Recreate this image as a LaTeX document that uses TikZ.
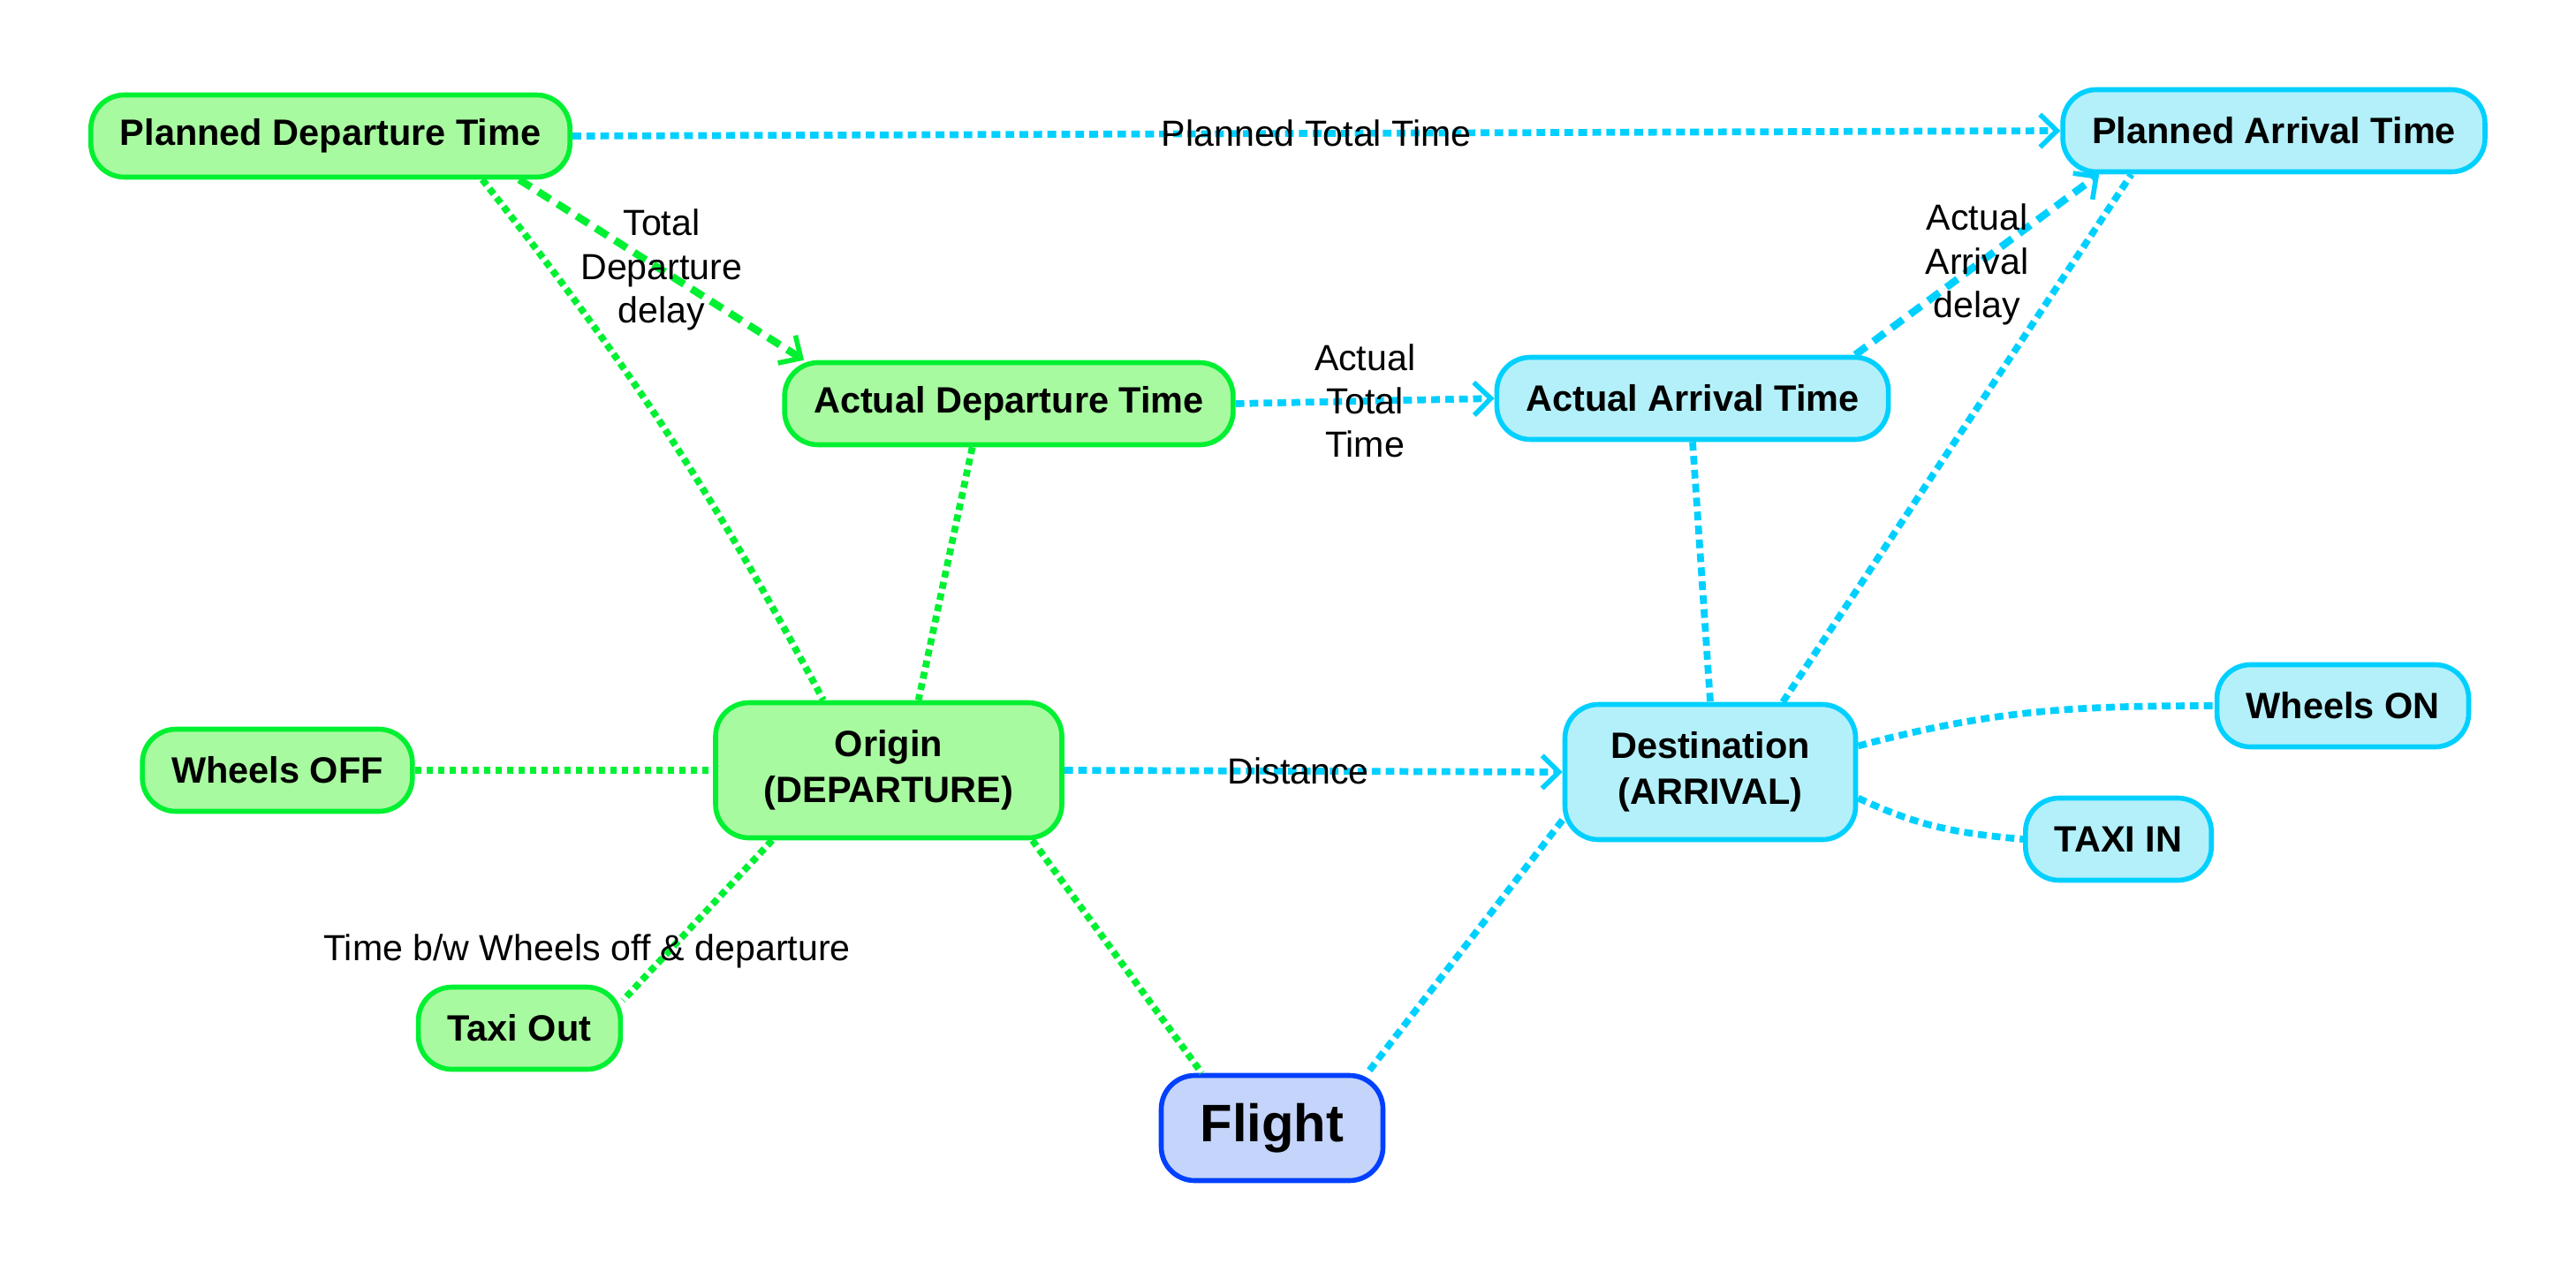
\documentclass[tikz,border=0pt]{standalone}
\usepackage{fontspec}
\setmainfont{Liberation Sans}
\usetikzlibrary{arrows.meta}
\definecolor{grnedge}{RGB}{0,240,50}
\definecolor{grnfill}{RGB}{168,250,160}
\definecolor{cyanedge}{RGB}{0,208,255}
\definecolor{cyanfill}{RGB}{180,240,250}
\definecolor{flightedge}{RGB}{0,64,255}
\definecolor{flightfill}{RGB}{196,212,250}
\begin{document}
\begin{tikzpicture}[
		box/.style={rounded corners=0.38cm,line width=1.6pt,inner xsep=0.33cm,inner ysep=0pt,minimum height=0.93cm,align=center,font=\fontsize{11.8}{14.8}\selectfont\bfseries},
		grnbox/.style={box,draw=grnedge,fill=grnfill},
		cyanbox/.style={box,draw=cyanedge,fill=cyanfill},
		lbl/.style={inner sep=0pt,align=center,font=\fontsize{11.7}{14}\selectfont},
		gline/.style={draw=grnedge,line width=2.2pt,dash pattern=on 2.2pt off 1.5pt},
		cline/.style={draw=cyanedge,line width=2.2pt,dash pattern=on 2.8pt off 1.7pt},
		gdash/.style={draw=grnedge,line width=2.4pt,dash pattern=on 4.5pt off 2.8pt},
		cdash/.style={draw=cyanedge,line width=2.4pt,dash pattern=on 4.5pt off 2.8pt},
		barb/.style={-{Straight Barb[length=1.9mm,width=3.7mm,line width=1.6pt]}}]
		\useasboundingbox (0,0) rectangle (29.16,14.39);
		\node[grnbox](pdt) at (3.74,12.85){Planned Departure Time};
		\node[cyanbox](pat) at (25.74,12.91){Planned Arrival Time};
		\node[grnbox](adt) at (11.42,9.82){Actual Departure Time};
		\node[cyanbox](aat) at (19.16,9.88){Actual Arrival Time};
		\node[grnbox](woff) at (3.14,5.67){Wheels OFF};
		\node[grnbox,minimum width=3.92cm,minimum height=1.53cm](orig) at (10.06,5.67){Origin\\(DEPARTURE)};
		\node[cyanbox,minimum width=3.29cm,minimum height=1.53cm](dest) at (19.36,5.65){Destination\\(ARRIVAL)};
		\node[cyanbox](won) at (26.52,6.40){Wheels ON};
		\node[cyanbox](taxiin) at (23.98,4.89){TAXI IN};
		\node[grnbox](taxiout) at (5.88,2.75){Taxi Out};
		\node[box,draw=flightedge,fill=flightfill,minimum width=2.51cm,minimum height=1.19cm,font=\fontsize{17}{20}\selectfont\bfseries](flight) at (14.40,1.62){Flight};
		\draw[cline,barb] (pdt.east)--node[lbl](ptt){Planned Total Time}(pat.west);
		\draw[gdash,barb] (pdt.-13)--node[lbl](tdd){Total\\Departure\\delay}(adt.168);
		\draw[gline] (pdt.-16) to[bend left=5] (orig.133);
		\draw[gline] (adt.-130)--(orig.67);
		\draw[cline,barb] (adt.east)--node[lbl](att){Actual\\Total\\Time}(aat.west);
		\draw[cdash,barb] (aat.15)--node[lbl](aad){Actual\\Arrival\\delay}(pat.194);
		\draw[cline] (aat.south)--(dest.north);
		\draw[cline] (dest.44)--(pat.197);
		\draw[gline] (woff.east)--(orig.west);
		\draw[cline,barb] (orig.east)--node[lbl,pos=.47](dist){Distance}(dest.west);
		\draw[gline] (orig.211)--node[lbl,pos=.69,xshift=-0.93cm](tbw){Time b/w Wheels off \& departure}(taxiout.15);
		\draw[gline] (orig.-26)--(flight.142);
		\draw[cline] (dest.198)--(flight.30);
		\draw[cline] (dest.10) to[out=15,in=180] (won.west);
		\draw[cline] (dest.-10) to[out=-25,in=175] (taxiin.west);
	\end{tikzpicture}
\end{document}
